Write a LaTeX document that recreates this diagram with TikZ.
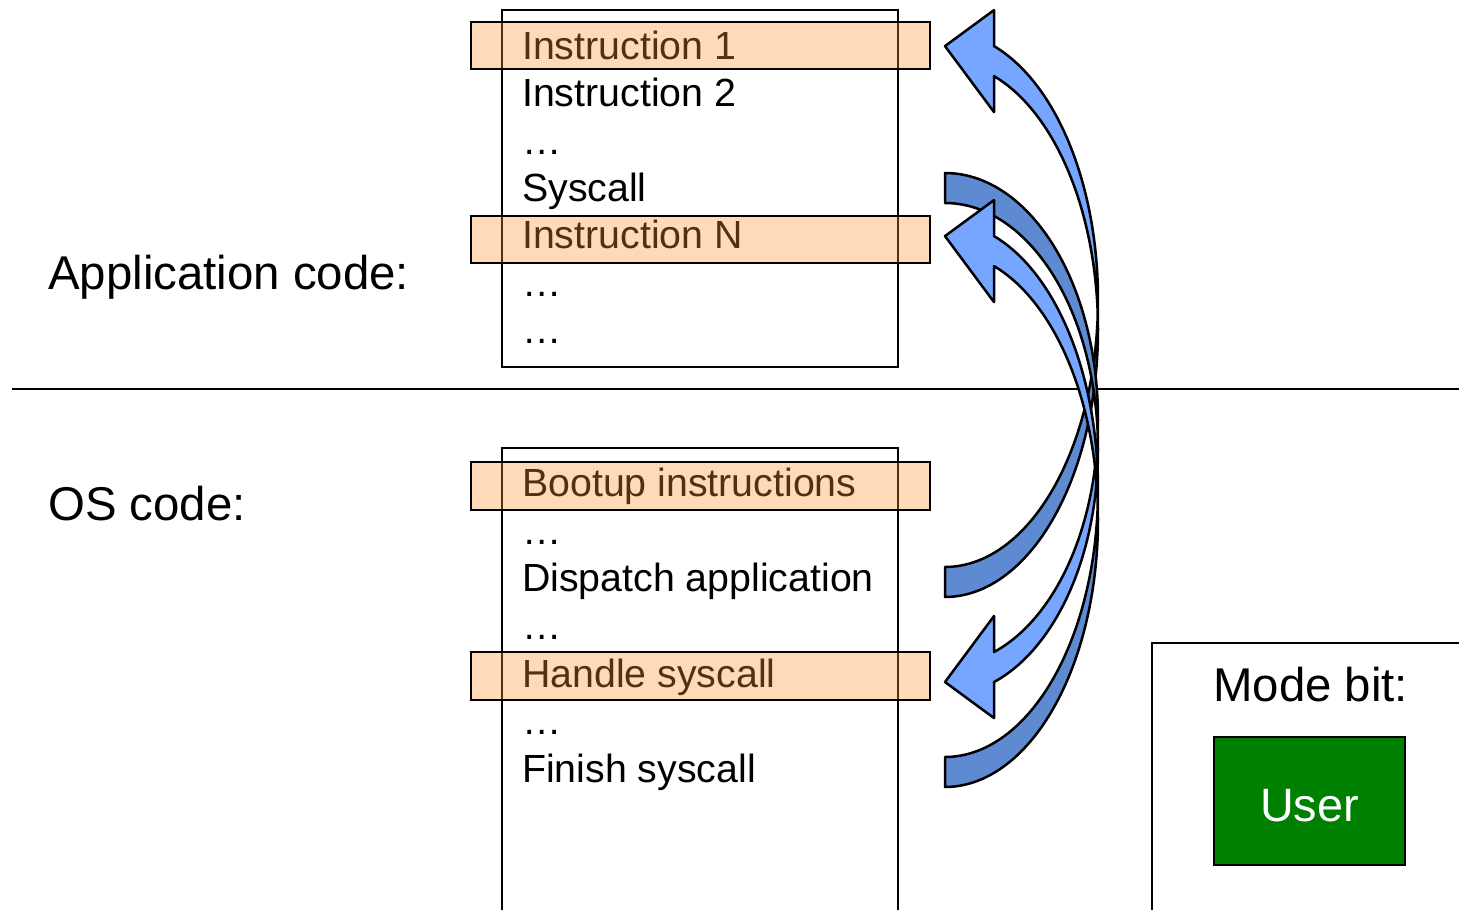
\documentclass[tikz,border=0pt]{standalone}
\usepackage{fontspec}
\setmainfont{Liberation Sans}
\definecolor{headblue}{RGB}{118,166,255}
\definecolor{tailblue}{RGB}{94,138,210}
\definecolor{barorange}{RGB}{255,144,45}
\definecolor{modegreen}{RGB}{0,128,0}

% Block arrow whose head points up-left; #1 = centre y of the outer arc
\newcommand\headupArrow[1]{%
  \filldraw[tailfill,outline]
    plot[ell, domain=3.2146:90] ({945+153*cos(\t)},{#1+267.5*sin(\t)})
    -- plot[ell, domain=90:-3.2146] ({945+153*cos(\t)},{#1+30+267.5*sin(\t)})
    -- cycle;
  \filldraw[headfill,outline]
    (994,{#1-289.41})
    -- plot[ell, domain=-71.32:3.2146] ({945+153*cos(\t)},{#1+267.5*sin(\t)})
    -- plot[ell, domain=-3.2146:-71.32] ({945+153*cos(\t)},{#1+30+267.5*sin(\t)})
    -- (994,{#1+30-253.41+36})
    -- (945,{#1-253.41})
    -- cycle;
}

\begin{document}
\begin{tikzpicture}[x=1pt,y=-1pt,
  rule/.style={draw=black,line width=2pt},
  codetext/.style={anchor=base west,inner sep=0pt,font=\fontsize{39.3}{47}\selectfont},
  sidelabel/.style={anchor=base west,inner sep=0pt,font=\fontsize{47.4}{56}\selectfont},
  hibar/.style={draw=black,line width=2pt,fill=barorange,fill opacity=0.333},
  ell/.style={variable=\t,samples=60},
  outline/.style={draw=black,line width=2.5pt,line join=round},
  tailfill/.style={fill=tailblue},
  headfill/.style={fill=headblue},
  modebox/.style={draw=black,line width=2pt,fill=modegreen,text=white,
    minimum width=191pt,minimum height=128pt,inner sep=0pt,
    text height=40pt,text depth=0pt,font=\fontsize{46.8}{56}\selectfont}
]
\useasboundingbox (0,0) rectangle (1459,910);
\clip (0,0) rectangle (1459,910);

% side labels and the user/kernel divider
\node[sidelabel] (applabel) at (48,289.5) {Application code:};
\node[sidelabel] (oslabel) at (48,520) {OS code:};
\coordinate (divL) at (12,389);
\coordinate (divR) at (1459,389);
\draw[rule] (divL) -- (divR);

% application code listing
\draw[rule] (502,10) rectangle (898,367);
\node[codetext] (a1) at (522,59.5) {Instruction 1};
\node[codetext] (a2) at (522,106.8) {Instruction 2};
\node[codetext] (a3) at (522,154.1) {…};
\node[codetext] (a4) at (522,201.4) {Syscall};
\node[codetext] (a5) at (522,248.7) {Instruction N};
\node[codetext] (a6) at (522,296) {…};
\node[codetext] (a7) at (522,343.3) {…};
\path[hibar] (471,22) rectangle (930,69);
\path[hibar] (471,216) rectangle (930,263);

% OS code listing
\draw[rule] (502,448) rectangle (898,940);
\node[codetext] (o1) at (522,496.7) {Bootup instructions};
\node[codetext] (o2) at (522,544.3) {…};
\node[codetext] (o3) at (522,591.9) {Dispatch application};
\node[codetext] (o4) at (522,639.5) {…};
\node[codetext] (o5) at (522,687.1) {Handle syscall};
\node[codetext] (o6) at (522,734.7) {…};
\node[codetext] (o7) at (522,782.3) {Finish syscall};
\path[hibar] (471,462) rectangle (930,510);
\path[hibar] (471,652) rectangle (930,700);

% control transfers
\headupArrow{299.5}
\filldraw[tailfill,outline]
  plot[ell, domain=-90:-3.4958] ({945+153*cos(\t)},{449+246*sin(\t)})
  -- plot[ell, domain=3.4958:-90] ({945+153*cos(\t)},{419+246*sin(\t)})
  -- cycle;
\filldraw[headfill,outline]
  (994,616.04)
  -- plot[ell, domain=71.32:3.4958] ({945+153*cos(\t)},{419+246*sin(\t)})
  -- plot[ell, domain=-3.4958:71.32] ({945+153*cos(\t)},{449+246*sin(\t)})
  -- (994,718.04) -- (945,682.04) -- cycle;
\headupArrow{489.5}

% mode bit panel
\draw[rule] (1152,643) rectangle (1480,940);
\node[sidelabel] (modelabel) at (1213,701.7) {Mode bit:};
\node[modebox] (mode) at (1309.5,801) {User};
\end{tikzpicture}
\end{document}
